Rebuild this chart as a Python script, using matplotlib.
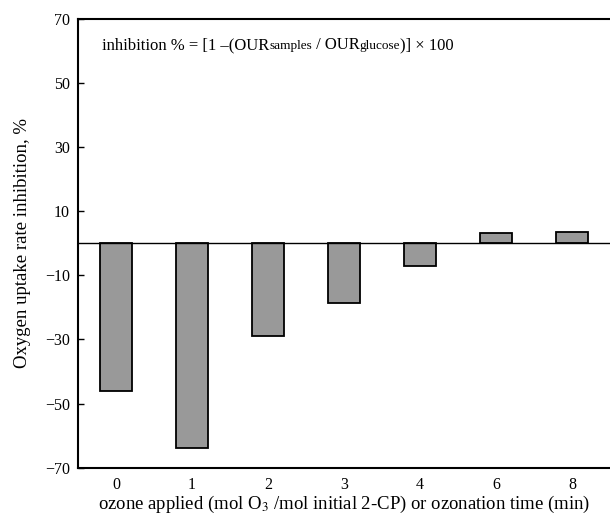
import matplotlib
matplotlib.use("Agg")
from matplotlib import pyplot as plt
import numpy as np

# data
categories = ["0", "1", "2", "3", "4", "6", "8"]
inhibition = [-46, -63.9, -29, -18.6, -7.2, 3.1, 3.4]
y_ticks = [-70, -50, -30, -10, 10, 30, 50, 70]

plt.rcParams['font.family'] = ['Liberation Serif', 'DejaVu Serif']
plt.rcParams['mathtext.fontset'] = 'stix'

fig = plt.figure(figsize=(6.1, 5.2), dpi=100)
ax = fig.add_axes([0.128, 0.1006, 0.872, 0.863])

x = np.arange(len(categories))
ax.bar(x, inhibition, width=0.42, color='#999999', edgecolor='black', linewidth=1.3, zorder=2)
ax.axhline(0, color='black', linewidth=1.0, zorder=3)

ax.set_xlim(-0.5, 6.5)
ax.set_ylim(-70, 70)
ax.set_yticks(y_ticks)
ax.set_yticklabels([str(t).replace('-', '\u2212') for t in y_ticks])
ax.set_xticks(x)
ax.set_xticklabels(categories)
ax.tick_params(axis='y', direction='in', length=4, width=1, labelsize=11.5, pad=6)
ax.tick_params(axis='x', length=0, labelsize=11.5, pad=7)

for s in ['left', 'top', 'bottom']:
    ax.spines[s].set_linewidth(1.5)
ax.spines['right'].set_visible(False)

ax.set_ylabel('Oxygen uptake rate inhibition, %', fontsize=13.5, labelpad=10)
ax.set_xlabel(r'ozone applied (mol O$_3$ /mol initial 2-CP) or ozonation time (min)', fontsize=13.5, labelpad=0.5)

# formula written in pieces so the subscripts sit small on the baseline
pieces = [("inhibition % = [1 \u2013(OUR", 12), ("samples", 9.5), (" / OUR", 12),
          ("glucose", 9.5), (")] \u00d7 100", 12)]
prev = ax.text(0.045, 0.932, pieces[0][0], transform=ax.transAxes, fontsize=pieces[0][1],
               va='baseline', ha='left')
for txt, size in pieces[1:]:
    prev = ax.annotate(txt, xy=(1, 0.932), xycoords=(prev, ax.transAxes),
                       fontsize=size, va='baseline', ha='left')

fig.savefig('out.png', dpi=100)
